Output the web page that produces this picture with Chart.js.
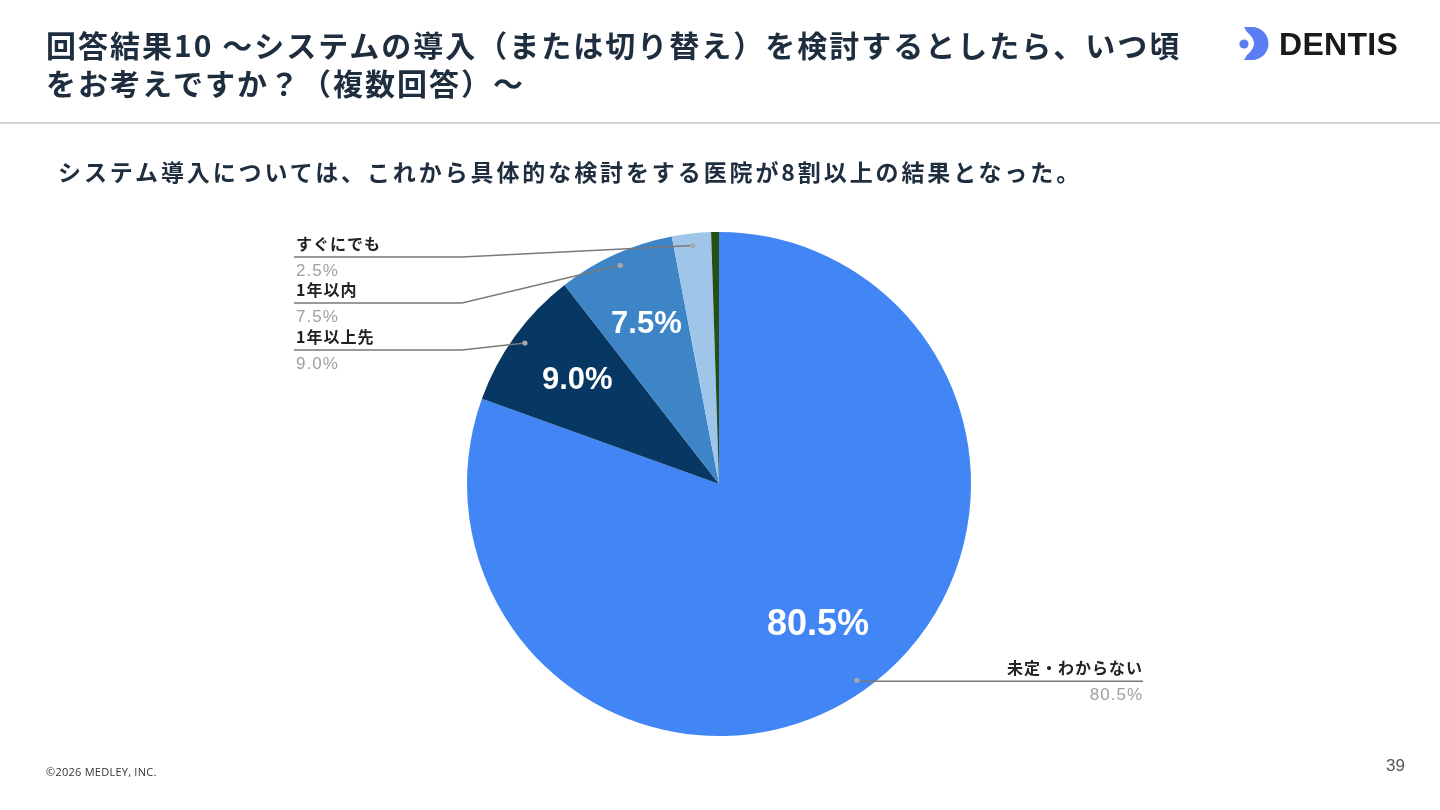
<!DOCTYPE html>
<html lang="ja">
<head>
<meta charset="utf-8">
<script src="https://cdn.jsdelivr.net/npm/chart.js@4"></script>
<style>
  html, body { margin: 0; padding: 0; background: #fff; }
  body { width: 1440px; height: 810px; position: relative; overflow: hidden;
         font-family: "Noto Sans CJK JP", "Noto Sans", sans-serif; }
  #chartBox { position: absolute; left: 0; top: 0; width: 1440px; height: 810px; }
  .title { position: absolute; left: 46px; top: 25px; margin: 0; font-size: 30px; font-weight: 700;
           line-height: 38px; color: #1f2e3f; letter-spacing: 2px; }
  .rule { position: absolute; left: 0; top: 122px; width: 1440px; height: 2px; background: #d4d4d4; }
  .sub { position: absolute; left: 58px; top: 155px; margin: 0; font-size: 23px; font-weight: 700;
         color: #1f2e3f; letter-spacing: 2.9px; line-height: 32px; }
  .logo { position: absolute; left: 1230px; top: 20px; width: 190px; height: 50px; }
  .logo span { position: absolute; left: 49px; top: 6px; font-family: "Liberation Sans", Arial, sans-serif;
               font-weight: 700; font-size: 32px; color: #1a1a1a; letter-spacing: 0.3px; }
  .copy { position: absolute; left: 46px; top: 764px; font-size: 11px; color: #333; letter-spacing: 0.25px;
          font-family: "Open Sans", sans-serif; }
  .page { position: absolute; left: 1386px; top: 756px; font-size: 17px; color: #555; font-family: "Liberation Sans", Arial, sans-serif; }
</style>
</head>
<body>
<div id="chartBox"><canvas id="pieChart"></canvas></div>
<h1 class="title">回答結果10 〜システムの導入（または切り替え）を検討するとしたら、いつ頃<br>をお考えですか？（複数回答）〜</h1>
<div class="rule"></div>
<p class="sub">システム導入については、これから具体的な検討をする医院が8割以上の結果となった。</p>
<div class="logo">
  <svg width="46" height="50" viewBox="0 0 46 50">
    <circle cx="14" cy="24" r="4.6" fill="#5b7cf3"/>
    <path d="M 14 7 L 22 7 A 16.5 16.5 0 0 1 22 40 L 14 40 L 17 35 Q 31 23.5 17 12 Z" fill="#5b7cf3"/>
  </svg>
  <span>DENTIS</span>
</div>
<div class="copy">©2026 MEDLEY, INC.</div>
<div class="page">39</div>

<script>
// answer categories, clockwise from 12 o'clock
const categories = ['未定・わからない', '1年以上先', '1年以内', 'すぐにでも', 'その他'];
const shares = [80.5, 9.0, 7.5, 2.5, 0.5];
const shareLabels = ['80.5%', '9.0%', '7.5%', '2.5%', '0.5%'];
const sliceColors = ['#4285f4', '#073763', '#3d85c6', '#9fc5e8', '#274e13'];

// where the callout text sits (left column lines / right line end)
const leftCallouts = { 1: 350, 2: 303, 3: 257 };

const calloutPlugin = {
  id: 'callouts',
  afterDatasetsDraw(chart) {
    const { ctx } = chart;
    const arcs = chart.getDatasetMeta(0).data;
    ctx.save();
    arcs.forEach((arc, i) => {
      const { x, y, startAngle, endAngle, outerRadius } = arc.getProps(['x', 'y', 'startAngle', 'endAngle', 'outerRadius'], true);
      const mid = (startAngle + endAngle) / 2;

      // big value inside slice
      if (shares[i] >= 5) {
        const r = outerRadius * 0.69;
        ctx.fillStyle = '#fff';
        ctx.font = (i === 0 ? 'bold 36px' : 'bold 31px') + ' "Liberation Sans", Arial, sans-serif';
        ctx.letterSpacing = '0px';
        ctx.textAlign = 'center';
        ctx.textBaseline = 'middle';
        ctx.fillText(shareLabels[i], x + Math.cos(mid) * r - 1, y + Math.sin(mid) * r - 1);
      }

      if (i > 3) return;
      const dr = outerRadius * 0.952;
      const dx = x + Math.cos(mid) * dr;
      const dy = y + Math.sin(mid) * dr;

      ctx.strokeStyle = '#7a7a7a';
      ctx.lineWidth = 1.5;
      ctx.beginPath();
      let lineY, textX, align;
      if (leftCallouts[i] !== undefined) {
        lineY = leftCallouts[i];
        ctx.moveTo(294, lineY);
        ctx.lineTo(462, lineY);
        ctx.lineTo(dx, dy);
        textX = 296;
        align = 'left';
      } else {
        lineY = dy + 1;
        ctx.moveTo(dx, lineY);
        ctx.lineTo(1143, lineY);
        textX = 1143;
        align = 'right';
      }
      ctx.stroke();

      ctx.fillStyle = '#a8a8a8';
      ctx.beginPath();
      ctx.arc(dx, dy, 2.6, 0, Math.PI * 2);
      ctx.fill();

      ctx.textAlign = align;
      ctx.textBaseline = 'alphabetic';
      ctx.letterSpacing = '1px';
      ctx.fillStyle = '#222';
      ctx.font = 'bold 16px "Noto Sans CJK JP", sans-serif';
      ctx.fillText(categories[i], textX, lineY - 7);
      ctx.fillStyle = '#a0a0a0';
      ctx.font = '17px "Liberation Sans", Arial, sans-serif';
      ctx.fillText(shareLabels[i], textX, lineY + 19);
    });
    ctx.restore();
  }
};

new Chart(document.getElementById('pieChart'), {
  type: 'pie',
  data: {
    labels: categories,
    datasets: [{
      data: shares,
      backgroundColor: sliceColors,
      borderWidth: 0,
      hoverOffset: 0
    }]
  },
  options: {
    responsive: true,
    maintainAspectRatio: false,
    animation: false,
    radius: 252,
    layout: { padding: { top: 200, bottom: 42, left: 0, right: 2 } },
    plugins: {
      legend: { display: false },
      tooltip: { enabled: false }
    }
  },
  plugins: [calloutPlugin]
});
</script>
</body>
</html>
